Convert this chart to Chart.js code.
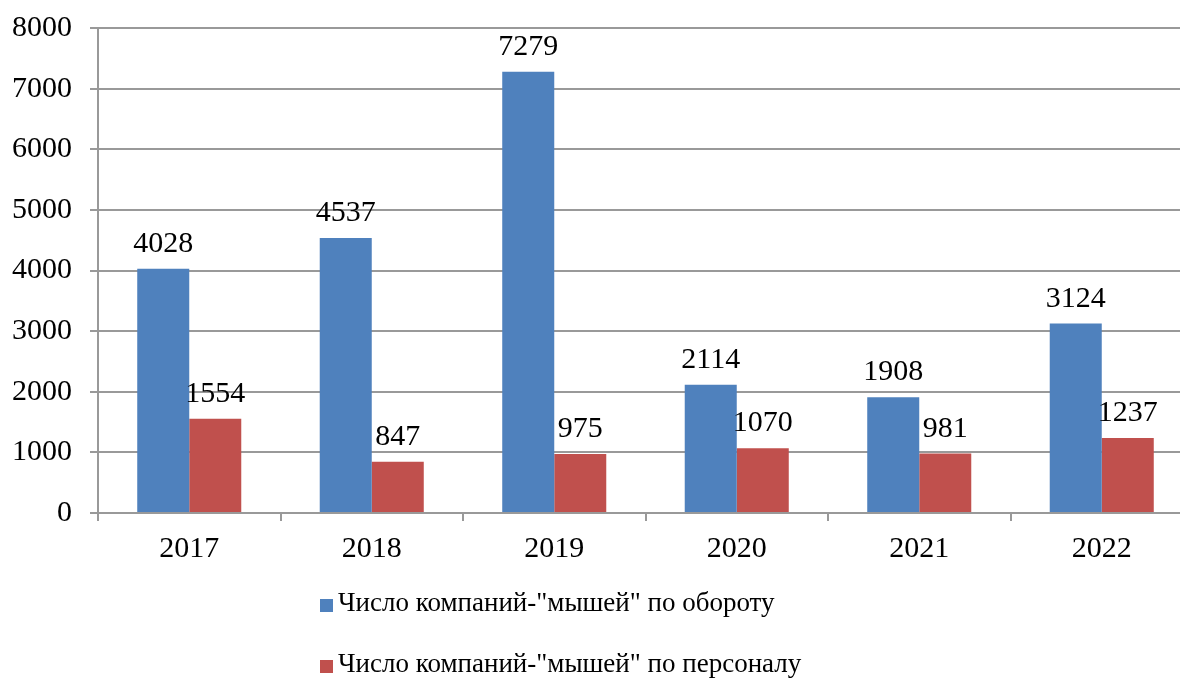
<!DOCTYPE html>
<html>
<head>
<meta charset="utf-8">
<script src="https://cdn.jsdelivr.net/npm/chart.js@4/dist/chart.umd.min.js"></script>
<style>
  html, body { margin: 0; padding: 0; background: #fff; overflow: hidden; }
  #wrap { position: relative; width: 1193px; height: 679px; }
</style>
</head>
<body>
<div id="wrap"><canvas id="chart" width="1193" height="679"></canvas></div>
<script>
const years = ['2017', '2018', '2019', '2020', '2021', '2022'];
const byTurnover = [4028, 4537, 7279, 2114, 1908, 3124];
const byStaff = [1554, 847, 975, 1070, 981, 1237];
const seriesNames = ['Число компаний-"мышей" по обороту', 'Число компаний-"мышей" по персоналу'];
const seriesColors = ['#4F81BD', '#C0504D'];

const FONT = '"Liberation Serif", "Times New Roman", serif';
const gridCol = '#999999';

const valueLabels = {
  id: 'valueLabels',
  afterDatasetsDraw(chart) {
    const ctx = chart.ctx;
    ctx.save();
    ctx.font = '30px ' + FONT;
    ctx.fillStyle = '#000';
    ctx.textAlign = 'center';
    ctx.textBaseline = 'alphabetic';
    chart.data.datasets.forEach((ds, di) => {
      chart.getDatasetMeta(di).data.forEach((bar, i) => {
        ctx.fillText(String(ds.data[i]), bar.x, bar.y - 17);
      });
    });
    ctx.restore();
  }
};

const bottomLegend = {
  id: 'bottomLegend',
  afterDraw(chart) {
    const ctx = chart.ctx;
    ctx.save();
    ctx.font = '27px ' + FONT;
    ctx.textAlign = 'left';
    ctx.textBaseline = 'alphabetic';
    const rows = [611, 672];
    seriesNames.forEach((name, i) => {
      ctx.fillStyle = seriesColors[i];
      ctx.fillRect(320, rows[i] - 12, 13, 13);
      ctx.fillStyle = '#000';
      ctx.fillText(name, 338, rows[i]);
    });
    ctx.restore();
  }
};

new Chart(document.getElementById('chart'), {
  type: 'bar',
  data: {
    labels: years,
    datasets: [
      { label: seriesNames[0], data: byTurnover, backgroundColor: seriesColors[0] },
      { label: seriesNames[1], data: byStaff, backgroundColor: seriesColors[1] }
    ]
  },
  options: {
    responsive: false,
    animation: false,
    layout: { padding: { top: 28, right: 0, left: 0, bottom: 106 } },
    plugins: { legend: { display: false }, tooltip: { enabled: false } },
    datasets: { bar: { categoryPercentage: 0.57, barPercentage: 1.0 } },
    scales: {
      x: {
        afterFit: (s) => { s.height = 60; },
        grid: { drawOnChartArea: false, drawTicks: true, tickLength: 8, color: gridCol, lineWidth: 2 },
        border: { color: gridCol, width: 2 },
        ticks: { color: '#000', font: { family: FONT, size: 30 }, padding: 10 }
      },
      y: {
        min: 0,
        max: 8000,
        afterFit: (s) => { s.width = 98; s.paddingTop = 0; s.paddingBottom = 0; },
        grid: { color: gridCol, lineWidth: 2, tickLength: 8 },
        border: { color: gridCol, width: 2 },
        ticks: { stepSize: 1000, color: '#000', font: { family: FONT, size: 30 }, padding: 18, callback: (v) => String(v) }
      }
    }
  },
  plugins: [valueLabels, bottomLegend]
});
</script>
</body>
</html>
